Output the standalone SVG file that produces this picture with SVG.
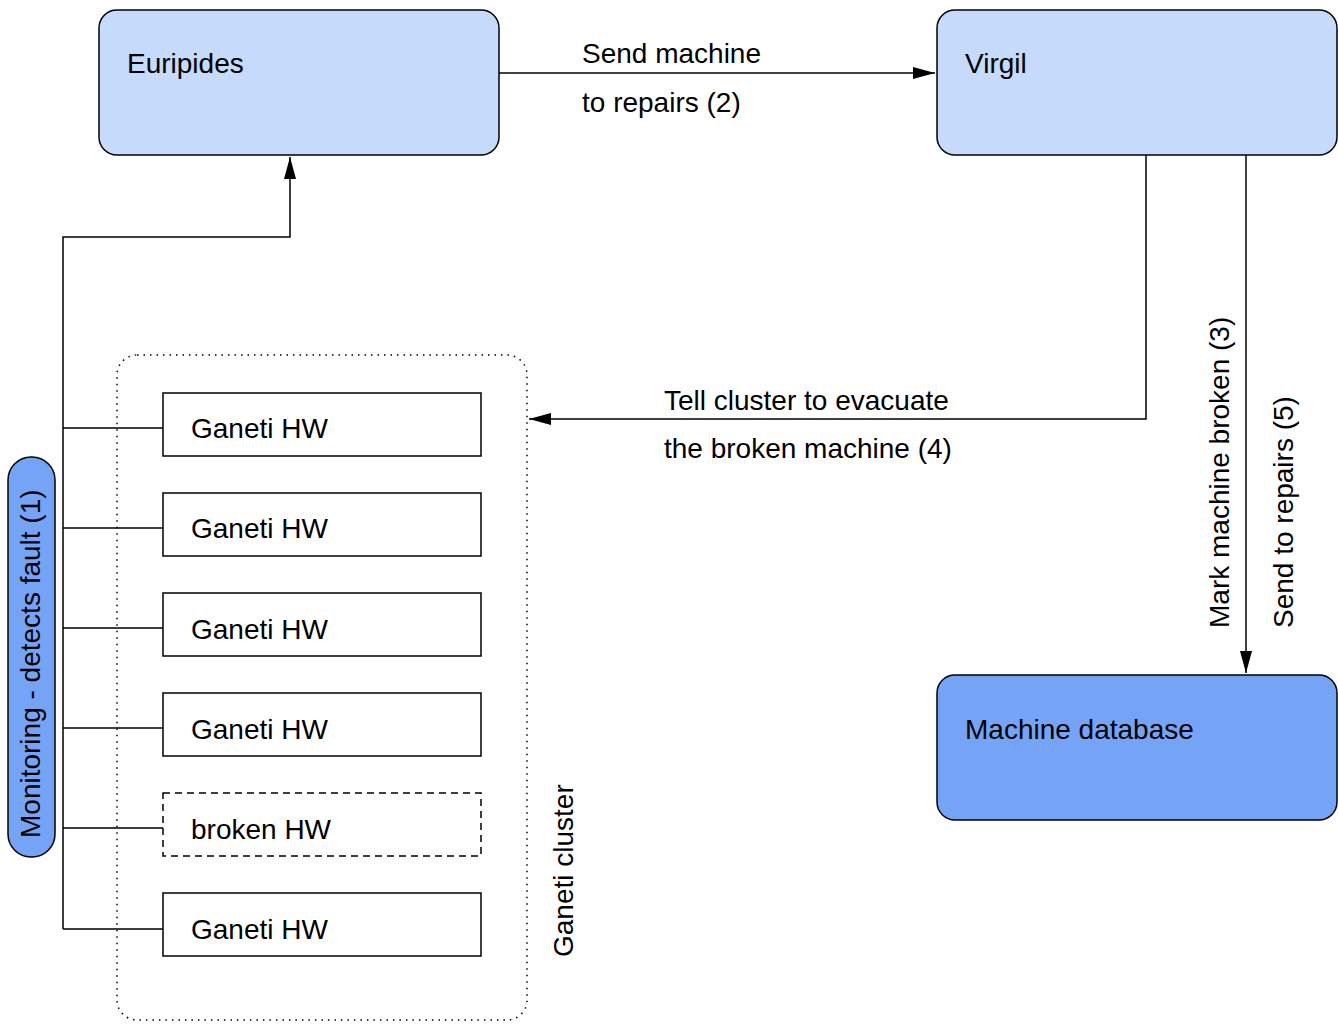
<svg xmlns="http://www.w3.org/2000/svg" width="1338" height="1026" viewBox="0 0 1338 1026">
<style>
text{font-family:"Liberation Sans",Arial,sans-serif;font-size:28px;fill:#000}
.box{fill:#c6dafc;stroke:#000;stroke-width:1.5}
.dark{fill:#75a4f7;stroke:#000;stroke-width:1.5}
.hw{fill:#fff;stroke:#000;stroke-width:1.5}
.ln{fill:none;stroke:#000;stroke-width:1.5}
</style>
<defs>
<marker id="arr" markerWidth="24" markerHeight="14" refX="22" refY="7" orient="auto" markerUnits="userSpaceOnUse">
<path d="M0,1 L22,7 L0,13 Z" fill="#000"/>
</marker>
</defs>
<g id="cluster">
<rect x="117" y="355" width="410" height="665" rx="20" fill="none" stroke="#000" stroke-width="1.5" stroke-dasharray="1.5 5"/>
<text transform="translate(573,957) rotate(-90)">Ganeti cluster</text>
</g>
<g id="connectors">
<path class="ln" d="M499,73 H935" marker-end="url(#arr)"/>
<path class="ln" d="M63,929 V237 H290 V157" marker-end="url(#arr)"/>
<path class="ln" d="M63,428 H163 M63,528 H163 M63,628 H163 M63,728 H163 M63,828 H163 M63,929 H163"/>
<path class="ln" d="M1146,155 V419 H529" marker-end="url(#arr)"/>
<path class="ln" d="M1246,155 V673" marker-end="url(#arr)"/>
<text x="582" y="63">Send machine</text>
<text x="582" y="112">to repairs (2)</text>
<text x="664" y="410">Tell cluster to evacuate</text>
<text x="664" y="458">the broken machine (4)</text>
<text transform="translate(1229,628) rotate(-90)">Mark machine broken (3)</text>
<text transform="translate(1293,628) rotate(-90)">Send to repairs (5)</text>
</g>
<g id="euripides">
<rect class="box" x="99" y="10" width="400" height="145" rx="18"/>
<text x="127" y="73">Euripides</text>
</g>
<g id="virgil">
<rect class="box" x="937" y="10" width="400" height="145" rx="18"/>
<text x="965" y="73">Virgil</text>
</g>
<g id="machine-db">
<rect class="dark" x="937" y="675" width="400" height="145" rx="18"/>
<text x="965" y="739">Machine database</text>
</g>
<g id="monitoring">
<rect class="dark" x="8" y="457" width="47" height="400" rx="23"/>
<text transform="translate(40,838) rotate(-90)">Monitoring - detects fault (1)</text>
</g>
<g id="hw1"><rect class="hw" x="163" y="393" width="318" height="63"/><text x="191" y="438">Ganeti HW</text></g>
<g id="hw2"><rect class="hw" x="163" y="493" width="318" height="63"/><text x="191" y="538">Ganeti HW</text></g>
<g id="hw3"><rect class="hw" x="163" y="593" width="318" height="63"/><text x="191" y="639">Ganeti HW</text></g>
<g id="hw4"><rect class="hw" x="163" y="693" width="318" height="63"/><text x="191" y="739">Ganeti HW</text></g>
<g id="hw5"><rect class="hw" x="163" y="793" width="318" height="63" stroke-dasharray="7 5"/><text x="191" y="839">broken HW</text></g>
<g id="hw6"><rect class="hw" x="163" y="893" width="318" height="63"/><text x="191" y="939">Ganeti HW</text></g>
</svg>
